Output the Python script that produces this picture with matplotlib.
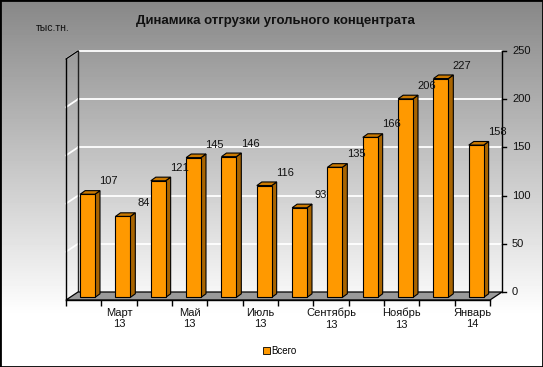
import numpy as np
import matplotlib
matplotlib.use("Agg")
import matplotlib.pyplot as plt
import matplotlib.transforms as mtrans
from matplotlib.patches import Rectangle, Polygon, Patch

plt.rcParams['font.family'] = ['Liberation Sans', 'DejaVu Sans']

# ---- data ----
months = ["Февраль\n13", "Март\n13", "Апрель\n13", "Май\n13", "Июнь\n13", "Июль\n13",
          "Август\n13", "Сентябрь\n13", "Октябрь\n13", "Ноябрь\n13", "Декабрь\n13", "Январь\n14"]
values = [107, 84, 121, 145, 146, 116, 93, 135, 166, 206, 227, 158]
yticks = [0, 50, 100, 150, 200, 250]
title = "Динамика отгрузки угольного концентрата"
unit = "тыс.тн."
series_name = "Всего"

W, H, DPI = 543, 367, 100
fig = plt.figure(figsize=(W / DPI, H / DPI), dpi=DPI)

# background gradient
bg = fig.add_axes([0, 0, 1, 1], zorder=0)
yy = np.linspace(0, 1, 367)[:, None]
g = np.clip(0.53 + yy * (1.0 - 0.53) / 0.86, 0, 1)
img = np.repeat(g, 10, axis=1)
bg.imshow(img, cmap='gray', vmin=0, vmax=1, aspect='auto', extent=[0, 1, 0, 1], origin='upper')
bg.add_patch(Rectangle((0, 0), 1, 1, transform=bg.transAxes, fill=False, ec='black', lw=2.0))
bg.set_xlim(0, 1); bg.set_ylim(0, 1)
bg.axis('off')

# front plane axes
L, R, B, T = 66, 490, 300, 59
ax = fig.add_axes([L / W, 1 - B / H, (R - L) / W, (B - T) / H], zorder=1)
ax.set_facecolor('none')
n = len(values)
ax.set_xlim(0, n)
ax.set_ylim(0, 250)

def shift(dx, dy):
    return ax.transData + mtrans.ScaledTranslation(dx / DPI, dy / DPI, fig.dpi_scale_trans)

DX, DY = 12, 8  # full depth in px
back = shift(DX, DY)

px_x = ax.transData.transform((1, 0))[0] - ax.transData.transform((0, 0))[0]
px_y = ax.transData.transform((0, 1))[1] - ax.transData.transform((0, 0))[1]

# floor
ax.add_patch(Polygon([(0, 0), (n, 0), (n + DX / px_x, DY / px_y), (DX / px_x, DY / px_y)],
                     closed=True, fc='#9a9a9a', ec='black', lw=0.9, zorder=1, clip_on=False))

# back wall gridlines
for v in yticks[1:]:
    ax.plot([0, n], [v, v], transform=back, color='white', lw=1.3, zorder=0.5, clip_on=False)
# left wall gridline slants
for v in yticks[1:]:
    ax.plot([0, DX / px_x], [v, v + DY / px_y], color='white', lw=1.3, zorder=0.5, clip_on=False)
# left wall edges
ax.plot([0, 0], [0, 250], transform=back, color='#222222', lw=1.0, zorder=0.6, clip_on=False)
ax.plot([0, DX / px_x], [250, 250 + DY / px_y], color='black', lw=1.0, zorder=0.6, clip_on=False)

# right axis (back)
ax.plot([n, n], [0, 250], transform=back, color='black', lw=1.0, zorder=0.6, clip_on=False)
for v in yticks:
    ax.plot([n, n + 4 / px_x], [v, v], transform=back, color='black', lw=1.0, clip_on=False)
    ax.text(n, v, str(v), transform=shift(DX + 10, DY), ha='left', va='center',
            fontsize=8, color='#111111')

# bars
bw = 0.42
bdx, bdy = 3.9, 2.6
sdx, sdy = 5 / px_x, 3.6 / px_y
bt = shift(bdx, bdy)
front_c, side_c, top_c = '#FF9900', '#A86400', '#CC7A00'
for i, v in enumerate(values):
    x0 = i + 0.5 - bw / 2
    x1 = x0 + bw
    ax.add_patch(Polygon([(x1, 0), (x1 + sdx, sdy), (x1 + sdx, v + sdy), (x1, v)], closed=True,
                         transform=bt, fc=side_c, ec='black', lw=0.8, zorder=3, clip_on=False))
    ax.add_patch(Polygon([(x0, v), (x1, v), (x1 + sdx, v + sdy), (x0 + sdx, v + sdy)], closed=True,
                         transform=bt, fc=top_c, ec='black', lw=0.8, zorder=3, clip_on=False))
    ax.add_patch(Rectangle((x0, 0), bw, v, transform=bt, fc=front_c, ec='black', lw=0.8,
                           zorder=4, clip_on=False))
    ax.annotate(str(v), (i + 0.5, v), xytext=(25 * 0.72, 15.6 * 0.72), textcoords='offset points',
                ha='center', va='center', fontsize=8, color='#111111', zorder=5,
                annotation_clip=False)

# axes styling
for s in ['top', 'right']:
    ax.spines[s].set_visible(False)
ax.spines['left'].set_color('black')
ax.spines['bottom'].set_color('black')
ax.spines['left'].set_linewidth(1.0)
ax.spines['bottom'].set_linewidth(1.0)
ax.spines['left'].set_zorder(0.6)
ax.set_yticks([])
ax.set_xticks(np.arange(n + 1), minor=True)
ax.set_xticks(np.arange(1, n, 2) + 0.5)
ax.set_xticklabels([months[i] for i in range(1, n, 2)], fontsize=8, color='#111111',
                   linespacing=1.2)
ax.tick_params(axis='x', which='major', length=0, pad=5.5)
ax.tick_params(axis='x', which='minor', length=4, width=1.0, color='black')

# texts
fig.text(275 / W, 1 - 21 / H, title, ha='center', va='center', fontsize=9.5, fontweight='bold',
         color='#111111')
fig.text(36 / W, 1 - 28 / H, unit, ha='left', va='center', fontsize=7.5, color='#111111')
fig.legend(handles=[Patch(fc=front_c, ec='black', lw=0.6, label=series_name)], loc='center',
           bbox_to_anchor=(280 / W, 1 - 351 / H), frameon=False, fontsize=7,
           handlelength=0.7, handleheight=0.7, handletextpad=0.2)

fig.savefig('out.png', dpi=DPI)
